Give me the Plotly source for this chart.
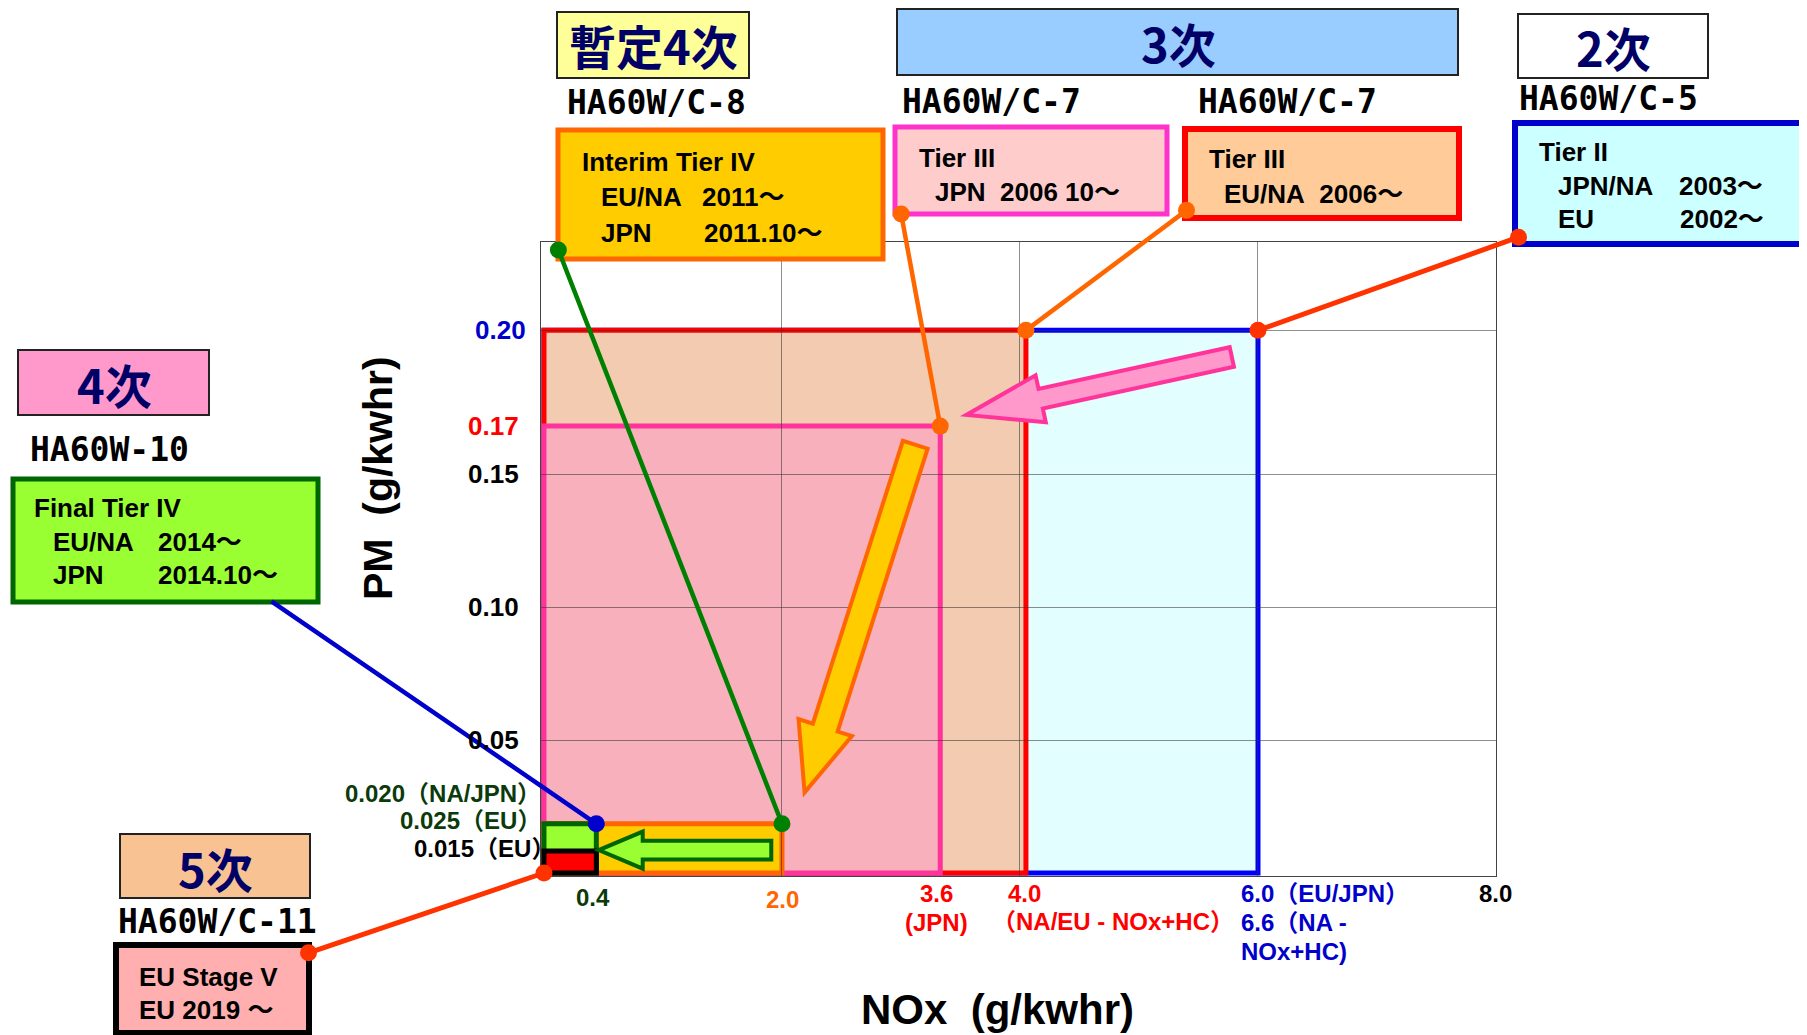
import math
import plotly.graph_objects as go

# ---------------- data ----------------
standards = ["Tier II", "Tier III EU/NA", "Tier III JPN", "Interim Tier IV", "Final Tier IV", "EU Stage V"]
nox_limit = [6.0, 4.05, 3.33, 2.0, 0.44, 0.44]          # g/kWh (box right edge, as drawn)
pm_limit = [0.204, 0.204, 0.168, 0.0185, 0.0185, 0.0083]  # g/kWh (box top edge, as drawn)

y_tick_vals = [0.204, 0.168, 0.150, 0.100, 0.050]
y_tick_text = ["0.20", "0.17", "0.15", "0.10", "0.05"]
x_grid_vals = [2, 4, 6]
y_grid_vals = [0.05, 0.10, 0.15, 0.204]

# block arrows (NOx, PM) from -> to
move_from_x = [5.78, 3.12, 1.91]
move_from_y = [0.194, 0.161, 0.0086]
move_to_x = [3.55, 2.19, 0.46]
move_to_y = [0.1722, 0.0303, 0.0086]

# ---------------- styles / geometry ----------------
box_fill = ["#E3FEFE", "#F2CBB0", "#F7B0BC", "#FFCC00", "#99FF33", "#FF0000"]
box_line = ["#0000FF", "#FF0000", "#FF3399", "#FF6600", "#006600", "#000000"]

arr_fill = ["#FF99CC", "#FFCC00", "#99FF33"]
arr_line = ["#FF3399", "#FF6600", "#006600"]
arr_shaft = [20, 26, 19]
arr_head = [48, 56, 37]
arr_hlen = [76, 68, 44]

OFF = 8                      # page body margin of the html document
W, H = 1807 - OFF, 1035 - OFF
PL, PR, PT, PB = 541, 1496, 242, 876   # plot area in page pixels
x_range = [-0.025, 8.0]
sx = (PR - PL) / (x_range[1] - x_range[0])
sy = 2660.0
y_range = [-3.0 / sy, -3.0 / sy + (PB - PT) / sy]

BODY = "Liberation Sans, Noto Sans CJK JP, sans-serif"
MONO = "DejaVu Sans Mono, monospace"
CJK = "Noto Sans CJK JP, sans-serif"


def paper(px, py):
    return (px - PL) / (PR - PL), (PB - py) / (PB - PT)


def px2data(px, py):
    return x_range[0] + (px - PL) / sx, y_range[0] + (PB - py) / sy


shapes = []
annotations = []

# limit boxes in data space
for i in range(len(standards)):
    shapes.append(dict(type="rect", xref="x", yref="y", x0=0, y0=0,
                       x1=nox_limit[i], y1=pm_limit[i], layer="below",
                       fillcolor=box_fill[i], line=dict(color=box_line[i], width=5)))


def arrow_path(x0, y0, x1, y1, sw, hw, hl):
    X0, Y0, X1, Y1 = x0 * sx, y0 * sy, x1 * sx, y1 * sy
    dx, dy = X1 - X0, Y1 - Y0
    L = math.hypot(dx, dy)
    ux, uy = dx / L, dy / L
    nx, ny = -uy, ux
    bx, by = X1 - ux * hl, Y1 - uy * hl
    pts = [(X0 + nx * sw / 2, Y0 + ny * sw / 2), (bx + nx * sw / 2, by + ny * sw / 2),
           (bx + nx * hw / 2, by + ny * hw / 2), (X1, Y1),
           (bx - nx * hw / 2, by - ny * hw / 2), (bx - nx * sw / 2, by - ny * sw / 2),
           (X0 - nx * sw / 2, Y0 - ny * sw / 2)]
    return "M " + " L ".join(f"{p[0] / sx:.5f},{p[1] / sy:.6f}" for p in pts) + " Z"


for i in range(len(move_from_x)):
    shapes.append(dict(type="path", xref="x", yref="y", layer="above",
                       path=arrow_path(move_from_x[i], move_from_y[i], move_to_x[i], move_to_y[i],
                                       arr_shaft[i], arr_head[i], arr_hlen[i]),
                       fillcolor=arr_fill[i], line=dict(color=arr_line[i], width=4)))


def pbox(x0, y0, x1, y1, fill, line, lw):
    a0, b0 = paper(x0, y0)
    a1, b1 = paper(x1, y1)
    shapes.append(dict(type="rect", xref="paper", yref="paper", x0=a0, y0=b1, x1=a1, y1=b0,
                       fillcolor=fill, line=dict(color=line, width=lw), layer="above"))


def ptext(px, py, text, size, color="#000", family=BODY, xanchor="left", bold=True, angle=0):
    a, b = paper(px, py)
    annotations.append(dict(x=a, y=b, xref="paper", yref="paper", text=(f"<b>{text}</b>" if bold else text),
                            showarrow=False, xanchor=xanchor, yanchor="middle", textangle=angle,
                            font=dict(family=family, size=size, color=color)))


NAVY = "#000066"
# generation header boxes
pbox(557, 12, 749, 78, "#FFFF99", "#222", 2)
ptext(653, 45, "暫定4次", 47, NAVY, CJK, "center")
pbox(897, 9, 1458, 75, "#99CCFF", "#222", 2)
ptext(1178, 43, "3次", 47, NAVY, CJK, "center")
pbox(1518, 14, 1708, 78, "#FFFFFF", "#222", 2)
ptext(1613, 47, "2次", 47, NAVY, CJK, "center")
pbox(18, 350, 209, 415, "#FF99CC", "#222", 2)
ptext(114, 383, "4次", 47, NAVY, CJK, "center")
pbox(120, 834, 310, 898, "#F9C293", "#222", 2)
ptext(215, 867, "5次", 47, NAVY, CJK, "center")

# model names
for (x, y, t) in [(565, 102, "HA60W/C-8"), (900, 101, "HA60W/C-7"), (1196, 101, "HA60W/C-7"),
                  (1517, 98, "HA60W/C-5"), (28, 449, "HA60W-10"), (116, 921, "HA60W/C-11")]:
    ptext(x, y, t, 33, "#000", MONO)

NB = "\u00a0"
BS = 26
# standard boxes
pbox(558, 130, 883, 259, "#FFCC00", "#FF6600", 5)
ptext(580, 162, "Interim Tier IV", BS)
ptext(599, 197, "EU/NA", BS); ptext(700, 197, "2011〜", BS)
ptext(599, 233, "JPN", BS); ptext(702, 233, "2011.10〜", BS)

pbox(895, 127, 1167, 214, "#FFCCCC", "#FF33CC", 5)
ptext(917, 158, "Tier III", BS)
ptext(933, 192, f"JPN{NB}{NB}2006 10〜", BS)

pbox(1185, 129, 1459, 218, "#FFCC99", "#FF0000", 6)
ptext(1207, 159, "Tier III", BS)
ptext(1222, 194, f"EU/NA{NB}{NB}2006〜", BS)

pbox(1515, 123, 1840, 244, "#CCFFFF", "#0000CC", 6)
ptext(1537, 152, "Tier II", BS)
ptext(1556, 186, "JPN/NA", BS); ptext(1677, 186, "2003〜", BS)
ptext(1556, 219, "EU", BS); ptext(1678, 219, "2002〜", BS)

pbox(13, 479, 318, 602, "#99FF33", "#006600", 5)
ptext(32, 508, "Final Tier IV", BS)
ptext(51, 542, "EU/NA", BS); ptext(156, 542, "2014〜", BS)
ptext(51, 575, "JPN", BS); ptext(156, 575, "2014.10〜", BS)

pbox(116, 945, 309, 1033, "#FFAFAF", "#000000", 6)
ptext(137, 977, "EU Stage V", BS)
ptext(137, 1010, f"EU 2019{NB}〜", BS)

# leader lines: tail (pixel on label box) -> head (corner of limit box, data)
leaders = [
    ((558, 249), (nox_limit[3], pm_limit[3]), "#008000", 4.5, True),
    ((901, 213), (nox_limit[2], pm_limit[2]), "#FF6600", 4.5, True),
    ((1187, 210), (nox_limit[1], pm_limit[1]), "#FF6600", 4.5, True),
    ((1519, 237), (nox_limit[0], pm_limit[0]), "#FF3300", 5.0, True),
    ((271, 601), (nox_limit[4], pm_limit[4]), "#0000CC", 4.5, False),
    ((308, 953), (0, 0), "#FF3300", 5.0, True),
]
for (tpx, tpy), (hx, hy), col, w, both in leaders:
    tx, ty = px2data(tpx, tpy)
    r = 8.5
    annotations.append(dict(x=hx, y=hy, xref="x", yref="y", ax=tx, ay=ty, axref="x", ayref="y",
                            text=" ", font=dict(size=1), showarrow=True,
                            arrowhead=6, startarrowhead=6, arrowside=("end+start" if both else "end"),
                            arrowwidth=w, arrowsize=r / (2 * w), startarrowsize=r / (2 * w),
                            arrowcolor=col, standoff=0, startstandoff=0, borderpad=0))

# y tick labels
y_tick_colors = ["#0000CC", "#FF0000", "#000", "#000", "#000"]
y_tick_right = [528, 521, 521, 521, 521]
for v, t, c, xr in zip(y_tick_vals, y_tick_text, y_tick_colors, y_tick_right):
    annotations.append(dict(x=paper(xr, 0)[0], y=v, xref="paper", yref="y", text=f"<b>{t}</b>",
                            showarrow=False, xanchor="right", yanchor="middle",
                            font=dict(family=BODY, size=26, color=c)))

DG = "#0B3A0B"
ptext(543, 793, "0.020（NA/JPN）", 24, DG, xanchor="right")
ptext(543, 820, "0.025（EU）", 24, DG, xanchor="right")
ptext(557, 848, "0.015（EU）", 24, "#000", xanchor="right")

# x labels
XS = 24
ptext(593, 897, "0.4", XS, DG, xanchor="center")
ptext(782, 899, "2.0", XS, "#FF6600", xanchor="center")
ptext(936, 893, "3.6", XS, "#FF0000", xanchor="center")
ptext(936, 922, "(JPN)", XS, "#FF0000", xanchor="center")
ptext(1024, 893, "4.0", XS, "#FF0000", xanchor="center")
ptext(990, 921, "（NA/EU - NOx+HC）", 24, "#FF0000")
ptext(1239, 893, "6.0（EU/JPN）", XS, "#0000CC")
ptext(1239, 922, "6.6（NA -", XS, "#0000CC")
ptext(1239, 951, "NOx+HC)", XS, "#0000CC")
ptext(1495, 893, "8.0", XS, "#000", xanchor="center")

# axis titles
ptext(997, 1009, f"NOx{NB} (g/kwhr)", 42, "#000", xanchor="center")
ptext(378, 478, f"PM{NB} (g/kwhr)", 41, "#000", xanchor="center", angle=-90)

fig = go.Figure()
fig.add_trace(go.Scatter(x=nox_limit, y=pm_limit, mode="markers", marker=dict(opacity=0),
                         hoverinfo="skip", showlegend=False))

fig.update_layout(
    width=W, height=H,
    margin=dict(l=PL - OFF, r=1807 - PR, t=PT - OFF, b=1035 - PB),
    paper_bgcolor="white", plot_bgcolor="white",
    showlegend=False,
    xaxis=dict(range=x_range, tickvals=x_grid_vals, showticklabels=False, ticks="",
               showgrid=True, gridcolor="rgba(50,50,50,0.55)", gridwidth=1, zeroline=False,
               showline=True, mirror=True, linecolor="#444", linewidth=1, fixedrange=True),
    yaxis=dict(range=y_range, tickvals=y_grid_vals, showticklabels=False, ticks="",
               showgrid=True, gridcolor="rgba(50,50,50,0.55)", gridwidth=1, zeroline=False,
               showline=True, mirror=True, linecolor="#444", linewidth=1, fixedrange=True),
    shapes=shapes,
    annotations=annotations,
)

fig.write_html("out.html")
